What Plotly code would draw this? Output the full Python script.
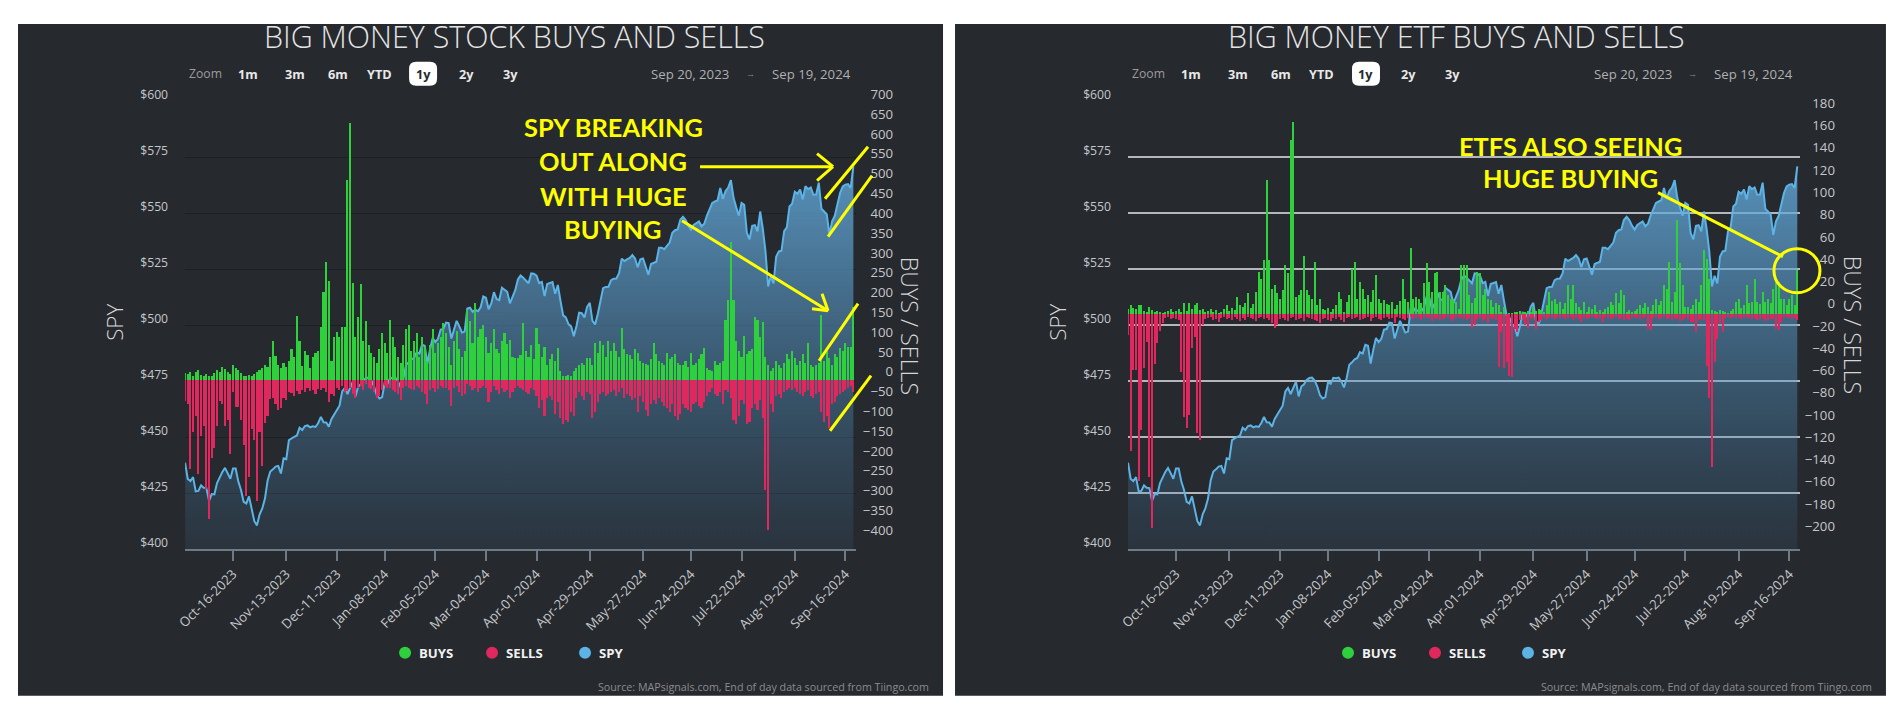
import pandas as pd
import plotly.graph_objects as go

# Figure fills the page (1896x708 incl. the 8px body margin). Target pixel positions (as read
# off the reference) are mapped to figure pixels through the capture geometry observed for this
# viewer (page captured with a 10px/18px lead-in and fitted to 1896x708).
OFF = 8
W, H = 1880, 692
CAP_X0, CAP_Y0 = 10, 18
KX = (1896 + CAP_X0) / 1896
KY = (708 + CAP_Y0) / 708
FS = 1.015

# ---------------- trading calendar ----------------
holidays = ['2023-11-23', '2023-12-25', '2024-01-01', '2024-01-15', '2024-02-19',
            '2024-03-29', '2024-05-27', '2024-06-19', '2024-07-04', '2024-09-02']
trading_days = [d.strftime('%Y-%m-%d') for d in pd.bdate_range('2023-09-20', '2024-09-19')
                if d.strftime('%Y-%m-%d') not in holidays]
x_dates = [d + ' 12:00' for d in trading_days]

# ---------------- SPY close ----------------
spy_sep23 = [438.64, 431.39, 430.42, 432.23, 425.88, 426.05, 428.52, 427.48]
spy_oct23 = [427.31, 421.59, 424.66, 424.50, 429.54, 432.29, 434.54, 436.32, 433.66, 431.50, 436.04,
             436.02, 430.21, 426.43, 421.19, 420.46, 423.63, 417.55, 412.55, 410.68, 415.59, 418.20]
spy_nov23 = [422.66, 430.76, 434.69, 435.69, 436.93, 437.25, 433.84, 440.61, 440.19, 448.73, 449.68,
             450.23, 450.79, 454.26, 453.27, 455.02, 455.30, 454.48, 454.93, 454.61, 456.40]
spy_dec23 = [459.10, 456.69, 456.60, 454.76, 458.23, 460.20, 461.99, 464.10, 470.50, 472.01, 469.33,
             471.97, 474.84, 468.26, 472.70, 473.65, 475.65, 476.51, 476.69, 475.31]
spy_jan24 = [472.65, 468.79, 467.28, 467.92, 474.60, 473.88, 476.56, 476.35, 476.68, 474.93, 472.29,
             476.49, 482.43, 483.45, 484.86, 485.39, 488.03, 487.41, 491.27, 490.89, 482.88]
spy_feb24 = [489.20, 494.35, 492.55, 493.98, 498.10, 498.32, 501.20, 500.98, 494.08, 498.57, 502.01,
             499.51, 496.76, 497.21, 507.50, 507.85, 505.99, 506.93, 506.26, 508.08]
spy_mar24 = [512.85, 512.30, 507.18, 509.75, 514.81, 511.72, 511.28, 516.78, 515.97, 514.95, 509.83,
             512.86, 515.71, 520.48, 522.20, 521.21, 519.77, 518.81, 523.17, 523.07]
spy_apr24 = [522.16, 518.84, 519.41, 513.07, 518.43, 518.72, 519.32, 514.12, 518.00, 510.85, 504.45,
             503.53, 500.55, 499.52, 495.16, 499.72, 505.65, 505.41, 503.49, 508.26, 510.06, 501.98]
spy_may24 = [500.35, 505.03, 511.29, 516.57, 517.14, 517.19, 520.17, 520.84, 520.91, 523.30, 529.78,
             528.69, 529.45, 530.06, 531.36, 529.83, 525.96, 529.44, 529.81, 526.10, 522.61, 527.37]
spy_jun24 = [527.80, 528.39, 534.67, 534.66, 534.01, 535.66, 536.95, 541.36, 542.45, 542.78, 547.10,
             548.49, 547.00, 544.51, 542.74, 544.83, 545.51, 546.37, 544.22]
spy_jul24 = [545.34, 549.01, 551.46, 554.64, 555.28, 555.82, 561.32, 556.48, 559.99, 561.53, 564.86,
             556.94, 552.66, 548.99, 554.65, 553.78, 541.23, 538.41, 544.44, 544.76, 542.00, 550.81]
spy_aug24 = [543.01, 532.90, 517.38, 522.15, 518.66, 530.65, 532.99, 533.27, 542.04, 543.75, 553.07,
             554.31, 559.61, 558.70, 560.62, 556.22, 562.13, 560.79, 561.56, 558.30, 558.35, 563.68]
spy_sep24 = [552.08, 550.95, 549.61, 540.36, 546.41, 548.79, 554.42, 559.09, 562.01, 562.84, 563.07,
             561.40, 570.98]
spy_close = (spy_sep23 + spy_oct23 + spy_nov23 + spy_dec23 + spy_jan24 + spy_feb24 + spy_mar24 +
             spy_apr24 + spy_may24 + spy_jun24 + spy_jul24 + spy_aug24 + spy_sep24)

# ---------------- Big money STOCK buys / sells ----------------
sb_sep23 = [18, 15, 20, 12, 22, 25, 14, 10]
sb_oct23 = [15, 12, 10, 18, 25, 20, 35, 28, 22, 15, 38, 32, 25, 18, 12, 10, 14, 12, 16, 20, 25, 30]
sb_nov23 = [40, 35, 60, 99, 61, 40, 30, 45, 35, 49, 80, 60, 162, 99, 37, 74, 65, 30, 58, 70, 75]
sb_dec23 = [134, 222, 298, 251, 50, 109, 121, 110, 134, 135, 507, 650, 247, 110, 160, 244, 100, 150, 90, 70]
sb_jan24 = [60, 45, 80, 120, 95, 70, 152, 110, 85, 60, 45, 90, 130, 140, 75, 100, 120, 60, 110, 85, 50]
sb_feb24 = [90, 130, 70, 95, 110, 145, 120, 85, 40, 100, 125, 80, 60, 75, 177, 150, 95, 195, 110, 130]
sb_mar24 = [140, 110, 70, 95, 130, 80, 70, 100, 120, 91, 103, 60, 57, 57, 65, 144, 74, 60, 90, 53]
sb_apr24 = [132, 91, 60, 85, 39, 55, 67, 50, 82, 23, 12, 10, 14, 12, 23, 30, 39, 45, 40, 57, 57, 40]
sb_may24 = [95, 70, 99, 89, 60, 99, 75, 95, 74, 60, 132, 80, 67, 63, 55, 78, 70, 49, 45, 42, 39, 55]
sb_jun24 = [95, 67, 50, 45, 39, 70, 55, 60, 67, 45, 39, 39, 50, 35, 70, 39, 45, 55, 67]
sb_jul24 = [82, 32, 25, 23, 49, 40, 45, 49, 152, 202, 350, 202, 100, 74, 60, 112, 67, 74, 80, 160, 152, 110]
sb_aug24 = [148, 60, 39, 23, 30, 49, 39, 32, 45, 67, 55, 74, 57, 39, 50, 67, 45, 95, 39, 35, 40, 45]
sb_sep24 = [165, 49, 74, 57, 39, 67, 60, 82, 74, 95, 85, 85, 185]
stock_buys = (sb_sep23 + sb_oct23 + sb_nov23 + sb_dec23 + sb_jan24 + sb_feb24 + sb_mar24 +
              sb_apr24 + sb_may24 + sb_jun24 + sb_jul24 + sb_aug24 + sb_sep24)

ss_sep23 = [-52, -60, -225, -131, -90, -237, -140, -116]
ss_oct23 = [-275, -351, -195, -170, -115, -52, -60, -115, -100, -187, -30, -68, -68, -100, -162,
            -292, -245, -123, -150, -305, -130, -217]
ss_nov23 = [-107, -90, -48, -45, -60, -75, -70, -45, -50, -30, -33, -40, -28, -35, -25, -30, -20,
            -28, -25, -35, -22]
ss_dec23 = [-25, -20, -30, -55, -35, -40, -20, -25, -15, -30, -28, -20, -35, -45, -20, -15, -25, -10, -18, -22]
ss_jan24 = [-30, -45, -40, -25, -15, -20, -18, -25, -30, -35, -50, -20, -15, -18, -22, -25, -15, -20,
            -30, -35, -60]
ss_feb24 = [-25, -18, -30, -22, -15, -20, -18, -25, -65, -20, -15, -30, -40, -35, -10, -15, -25, -20, -30, -18]
ss_mar24 = [-15, -20, -55, -30, -15, -25, -35, -20, -30, -25, -45, -30, -20, -15, -18, -25, -30, -35, -20, -25]
ss_apr24 = [-40, -70, -50, -90, -45, -40, -50, -85, -55, -95, -110, -100, -105, -80, -90, -45, -30,
            -40, -50, -30, -35, -95]
ss_may24 = [-80, -55, -35, -30, -40, -35, -30, -25, -40, -30, -20, -45, -35, -40, -50, -45, -80, -40,
            -55, -75, -90, -60]
ss_jun24 = [-50, -60, -45, -55, -65, -70, -80, -60, -90, -100, -85, -60, -70, -75, -80, -60, -55, -65, -70]
ss_jul24 = [-55, -40, -30, -20, -35, -40, -30, -60, -25, -30, -45, -100, -110, -90, -50, -60, -110,
            -105, -70, -60, -75, -50]
ss_aug24 = [-95, -277, -378, -60, -80, -40, -35, -45, -30, -25, -20, -25, -20, -30, -35, -40, -30,
            -25, -40, -45, -35, -30]
ss_sep24 = [-80, -104, -90, -120, -60, -55, -40, -35, -30, -25, -20, -15, -30]
stock_sells = (ss_sep23 + ss_oct23 + ss_nov23 + ss_dec23 + ss_jan24 + ss_feb24 + ss_mar24 +
               ss_apr24 + ss_may24 + ss_jun24 + ss_jul24 + ss_aug24 + ss_sep24)

# ---------------- Big money ETF buys / sells ----------------
eb_sep23 = [5, 8, 6, 5, 8, 8, 3, 2]
eb_oct23 = [7, 4, 2, 3, 2, 1, 2, 3, 5, 2, 3, 5, 2, 10, 3, 10, 5, 8, 10, 4, 5, 2]
eb_nov23 = [3, 5, 2, 4, 1, 2, 5, 8, 3, 6, 4, 16, 8, 7, 10, 19, 6, 9, 20, 38, 32]
eb_dec23 = [49, 121, 49, 23, 26, 19, 14, 22, 44, 37, 157, 173, 16, 17, 22, 52, 22, 17, 14, 47]
eb_jan24 = [8, 14, 5, 4, 6, 2, 5, 8, 20, 14, 2, 11, 17, 41, 47, 14, 29, 23, 14, 17, 11]
eb_feb24 = [22, 35, 14, 10, 13, 9, 8, 11, 5, 8, 12, 32, 14, 11, 60, 14, 16, 14, 10, 28]
eb_mar24 = [46, 29, 20, 37, 38, 20, 20, 26, 17, 14, 14, 11, 5, 44, 44, 44, 17, 10, 15, 38]
eb_apr24 = [37, 17, 23, 14, 13, 7, 10, 8, 2, 7, 0, 1, 1, 2, 2, 3, 2, 2, 3, 2, 7, 3]
eb_may24 = [5, 4, 2, 8, 20, 12, 14, 9, 11, 5, 10, 26, 14, 26, 10, 7, 4, 11, 2, 7, 5, 8]
eb_jun24 = [2, 4, 2, 5, 7, 11, 8, 19, 10, 22, 17, 2, 4, 2, 3, 5, 8, 6, 10]
eb_jul24 = [7, 3, 8, 14, 8, 12, 26, 23, 47, 11, 20, 85, 46, 26, 7, 7, 5, 8, 14, 11, 26, 58]
eb_aug24 = [50, 32, 4, 3, 2, 4, 3, 2, 1, 3, 5, 11, 14, 6, 8, 26, 10, 11, 32, 11, 9, 20]
eb_sep24 = [11, 14, 10, 23, 31, 29, 14, 14, 8, 14, 17, 8, 40]
etf_buys = (eb_sep23 + eb_oct23 + eb_nov23 + eb_dec23 + eb_jan24 + eb_feb24 + eb_mar24 +
            eb_apr24 + eb_may24 + eb_jun24 + eb_jul24 + eb_aug24 + eb_sep24)

es_sep23 = [-19, -123, -50, -50, -150, -104, -48, -25]
es_oct23 = [-146, -192, -45, -26, -15, -8, -3, -2, -4, -3, -4, -5, -52, -92, -102, -90, -30, -20,
            -107, -113, -10, -4]
es_nov23 = [-3, -2, -5, -4, -7, -3, -2, -4, -3, -5, -2, -4, -6, -3, -5, -2, -3, -4, -6, -3, -2]
es_dec23 = [-4, -3, -5, -8, -12, -10, -4, -3, -5, -6, -3, -2, -5, -4, -3, -6, -2, -3, -4, -5]
es_jan24 = [-6, -8, -4, -3, -5, -6, -3, -4, -2, -5, -7, -3, -2, -4, -3, -2, -5, -4, -3, -2, -6]
es_feb24 = [-3, -2, -4, -5, -3, -2, -4, -3, -8, -2, -3, -4, -5, -3, -2, -4, -3, -2, -5, -3]
es_mar24 = [-2, -3, -6, -4, -3, -5, -4, -3, -2, -4, -6, -3, -2, -3, -4, -5, -3, -12, -10, -4]
es_apr24 = [-3, -6, -4, -8, -3, -4, -5, -47, -16, -48, -43, -55, -56, -13, -16, -5, -4, -10, -12, -4, -3, -13]
es_may24 = [-7, -5, -3, -4, -2, -3, -4, -2, -3, -2, -4, -3, -2, -5, -3, -4, -7, -3, -4, -3, -2, -3]
es_jun24 = [-3, -4, -7, -2, -3, -4, -3, -2, -4, -3, -5, -4, -5, -3, -2, -3, -4, -3, -2]
es_jul24 = [-13, -14, -3, -2, -4, -3, -2, -4, -3, -5, -3, -4, -6, -5, -3, -4, -7, -7, -16, -5, -4, -5]
es_aug24 = [-46, -75, -137, -43, -22, -8, -16, -3, -2, -3, -2, -3, -2, -4, -3, -2, -3, -4, -3, -5, -4, -3]
es_sep24 = [-6, -5, -4, -4, -13, -14, -7, -3, -2, -3, -4, -3, -5]
etf_sells = (es_sep23 + es_oct23 + es_nov23 + es_dec23 + es_jan24 + es_feb24 + es_mar24 +
             es_apr24 + es_may24 + es_jun24 + es_jul24 + es_aug24 + es_sep24)

for name, s in [('spy', spy_close), ('sb', stock_buys), ('ss', stock_sells), ('eb', etf_buys), ('es', etf_sells)]:
    assert len(s) == len(trading_days), (name, len(s), len(trading_days))

# ---------------- tick labels ----------------
spy_ticks = [400, 425, 450, 475, 500, 525, 550, 575, 600]
spy_tick_text = ['$' + str(v) for v in spy_ticks]
stock_flow_ticks = list(range(-400, 701, 50))
etf_flow_ticks = list(range(-200, 181, 20))
tick_dates = pd.date_range('2023-10-16', '2024-09-16', freq='28D')
tick_text = [d.strftime('%b-%d-%Y') for d in tick_dates]
tick_pos = []
for d in tick_dates:
    s = d
    while s.strftime('%Y-%m-%d') in holidays or s.weekday() >= 5:
        s += pd.Timedelta(days=1)
    tick_pos.append(s.strftime('%Y-%m-%d') + ' 12:00')

# ---------------- styling ----------------
FONT = 'Open Sans'
BG = '#26292e'
GREEN = '#2ed03c'
RED = '#e0285e'
BLUE = '#5cb3e6'
YELLOW = '#ffff00'
AXIS = '#6e7a85'
TICK = '#c4c7ca'


def X(t):
    f = t * KX - CAP_X0 - OFF
    return min(1.0, max(0.0, f / W))


def Y(t):
    f = t * KY - CAP_Y0 - OFF
    return min(1.0, max(0.0, 1 - f / H))


def F(s):
    return round(s * FS, 1)


fig = go.Figure()

panels = [
    dict(ox=0, xa='x', ya='y', yb='y2', buys=stock_buys, sells=stock_sells,
         title='BIG MONEY STOCK BUYS AND SELLS'),
    dict(ox=943, xa='x2', ya='y3', yb='y4', buys=etf_buys, sells=etf_sells,
         title='BIG MONEY ETF BUYS AND SELLS'),
]

for p in panels:
    fig.add_trace(go.Scatter(
        x=x_dates, y=spy_close, xaxis=p['xa'], yaxis=p['ya'], mode='lines',
        line=dict(color=BLUE, width=2), fill='tozeroy',
        fillgradient=dict(type='vertical', start=400, stop=571,
                          colorscale=[[0, 'rgba(70,130,175,0.10)'], [1, 'rgba(100,172,222,0.80)']]),
        hoverinfo='skip', showlegend=False))
    fig.add_trace(go.Bar(x=x_dates, y=p['buys'], xaxis=p['xa'], yaxis=p['yb'],
                         marker=dict(color=GREEN, line=dict(width=0)), width=0.8 * 86400000,
                         showlegend=False))
    fig.add_trace(go.Bar(x=x_dates, y=p['sells'], xaxis=p['xa'], yaxis=p['yb'],
                         marker=dict(color=RED, line=dict(width=0)), width=0.8 * 86400000,
                         showlegend=False))

YDOM = [Y(550.5), Y(102.7)]


def xaxis_cfg(x0, x1, anchor):
    return dict(domain=[X(x0), X(x1)], anchor=anchor, type='date',
                range=['2023-09-20 12:00', '2024-09-20 12:00'],
                rangebreaks=[dict(bounds=['sat', 'mon']), dict(values=holidays)],
                tickvals=tick_pos, ticktext=tick_text, tickangle=-45,
                ticks='outside', ticklen=10, tickwidth=1.5, tickcolor=AXIS,
                showline=True, linecolor=AXIS, linewidth=2, showgrid=False, zeroline=False,
                tickfont=dict(family=FONT, size=F(13), color=TICK))


def spy_axis(anchor, gridcolor, gridwidth):
    return dict(domain=YDOM, anchor=anchor, range=[400, 600], tickvals=spy_ticks, ticktext=spy_tick_text,
                showgrid=True, gridcolor=gridcolor, gridwidth=gridwidth, zeroline=False,
                showline=False, ticks='', ticklabelstandoff=16, ticklabelshift=-7,
                tickfont=dict(family=FONT, size=F(12), color=TICK))


def flow_axis(overlay, pos, rng, ticks, shift):
    return dict(overlaying=overlay, anchor='free', position=X(pos), side='left', range=rng,
                tickvals=ticks, showgrid=False, zeroline=False, showline=False, ticks='',
                ticklabelshift=shift, tickfont=dict(family=FONT, size=F(13), color=TICK))


fig.update_layout(
    width=W, height=H, margin=dict(l=0, r=0, t=0, b=0),
    paper_bgcolor='white', plot_bgcolor='rgba(0,0,0,0)',
    showlegend=False, barmode='overlay', bargap=0,
    xaxis=xaxis_cfg(185, 856, 'y'),
    xaxis2=xaxis_cfg(1128, 1800, 'y3'),
    yaxis=spy_axis('x', '#1c1f23', 1),
    yaxis2=flow_axis('y', 893, [-425.5, 705.3], stock_flow_ticks, -9),
    yaxis3=spy_axis('x2', 'rgba(205,208,212,0.85)', 2),
    yaxis4=flow_axis('y3', 1835, [-210.7, 191.6], etf_flow_ticks, -11),
)

shapes = []
# panel backgrounds
for x0, x1 in [(12, 943), (955, 1886)]:
    shapes.append(dict(type='rect', xref='paper', yref='paper', x0=X(x0), x1=X(x1), y0=Y(697), y1=1,
                       fillcolor=BG, line=dict(width=0), layer='below'))


def rrect(x0, y0, x1, y1, r):
    pts = [('M', x0 + r, y0), ('L', x1 - r, y0), ('Q', x1, y0, x1, y0 + r), ('L', x1, y1 - r),
           ('Q', x1, y1, x1 - r, y1), ('L', x0 + r, y1), ('Q', x0, y1, x0, y1 - r), ('L', x0, y0 + r),
           ('Q', x0, y0, x0 + r, y0)]
    out = []
    for seg in pts:
        cmd = seg[0]
        coords = seg[1:]
        parts = []
        for i in range(0, len(coords), 2):
            parts.append(f'{X(coords[i]):.5f},{Y(coords[i + 1]):.5f}')
        out.append(cmd + ' ' + ' '.join(parts))
    return ' '.join(out) + ' Z'


def yline(x0, y0, x1, y1, w=3):
    shapes.append(dict(type='line', xref='paper', yref='paper', x0=X(x0), y0=Y(y0), x1=X(x1), y1=Y(y1),
                       line=dict(color=YELLOW, width=w), layer='above'))


annotations = []


def ann(text, x, y, size, color, weight=None, family=FONT, xanchor='center', angle=0):
    annotations.append(dict(text=text, x=X(x), y=Y(y), xref='paper', yref='paper', showarrow=False,
                            font=dict(family=family, size=F(size), color=color, weight=weight),
                            xanchor=xanchor, yanchor='middle', textangle=angle))


for p in panels:
    ox = p['ox']
    ann(p['title'], 514 + ox, 38, 30, '#e4e4e4', weight=300)
    # range selector
    ann('Zoom', 205 + ox, 75, 12, '#9c9c9c')
    shapes.append(dict(type='path', xref='paper', yref='paper', path=rrect(409 + ox, 63, 437 + ox, 87, 7),
                       fillcolor='#ffffff', line=dict(width=0), layer='above'))
    for lbl, cx in [('1m', 248), ('3m', 295), ('6m', 338), ('YTD', 379), ('1y', 423), ('2y', 466), ('3y', 510)]:
        ann(lbl, cx + ox, 75, 12.5, '#26292e' if lbl == '1y' else '#e8e8e8', weight=700)
    ann('Sep 20, 2023', 690 + ox, 75, 13, '#b0b0b0')
    ann('→', 750 + ox, 75, 9, '#8a8a8a')
    ann('Sep 19, 2024', 811 + ox, 75, 13, '#b0b0b0')
    # axis titles
    ann('SPY', 115 + ox, 324, 22, '#d6d6d6', weight=300, angle=-90)
    ann('BUYS / SELLS', 910 + ox, 327, 23, '#d6d6d6', weight=300, angle=90)
    # legend
    for lbl, col, cx in [('BUYS', GREEN, 405), ('SELLS', RED, 492), ('SPY', BLUE, 585)]:
        shapes.append(dict(type='circle', xref='paper', yref='paper', x0=X(cx - 6 + ox), x1=X(cx + 6 + ox),
                           y0=Y(660), y1=Y(648), fillcolor=col, line=dict(width=0)))
        ann(lbl, cx + 12 + ox, 654, 13, '#f2f2f2', weight=700, xanchor='left')
    ann('Source: MAPsignals.com, End of day data sourced from Tiingo.com', 931 + ox, 688, 10.5, '#8c8c8c',
        xanchor='right')

# yellow call-outs, left panel
for txt, y in [('SPY BREAKING', 128), ('OUT ALONG', 162), ('WITH HUGE', 197), ('BUYING', 230)]:
    ann(txt, 613, y, 25, YELLOW, weight=700, family='Lato')
yline(700, 168, 831, 168)
yline(817, 155, 833, 168)
yline(833, 168, 817, 182)
yline(682, 222, 828, 312)
yline(822, 295, 828, 312)
yline(812, 310, 828, 312)
yline(825, 200, 868, 148)
yline(828, 238, 872, 177)
yline(819, 362, 858, 305)
yline(830, 432, 871, 377)

# yellow call-outs, right panel
for txt, y in [('ETFS ALSO SEEING', 147), ('HUGE BUYING', 179)]:
    ann(txt, 1571, y, 25, YELLOW, weight=700, family='Lato')
yline(1658, 194, 1783, 258)
shapes.append(dict(type='circle', xref='paper', yref='paper', x0=X(1774), x1=X(1820), y0=Y(294), y1=Y(250),
                   line=dict(color=YELLOW, width=3), layer='above'))

fig.update_layout(shapes=shapes, annotations=annotations)
fig.write_html('out.html')
